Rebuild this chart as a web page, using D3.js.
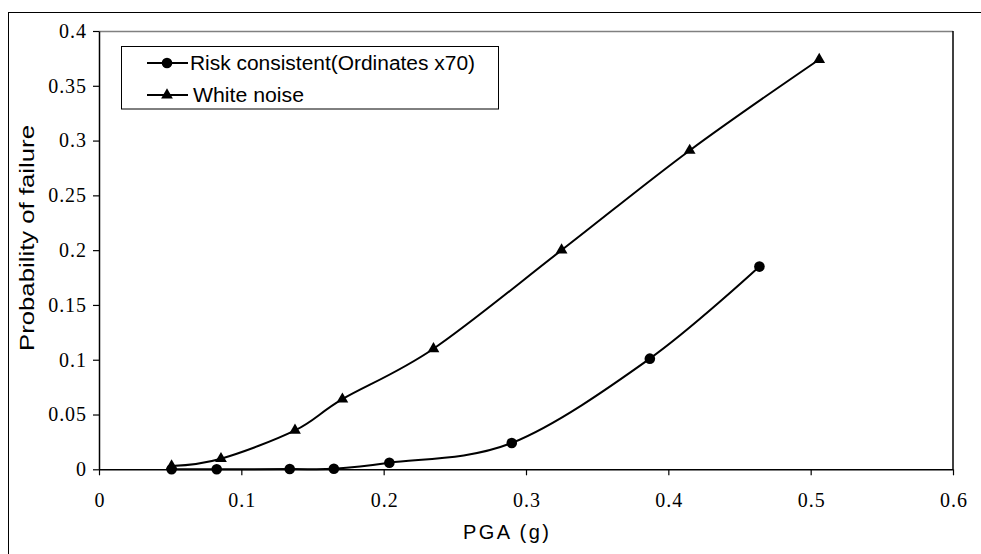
<!DOCTYPE html>
<html>
<head>
<meta charset="utf-8">
<script src="https://cdn.jsdelivr.net/npm/d3@7"></script>
<style>
  html, body { margin: 0; padding: 0; background: #fff; }
  svg { display: block; }
</style>
</head>
<body>
<svg id="chart" width="981" height="554"></svg>
<script>
// ---- data ----
const riskPGA   = [0.051, 0.0827, 0.134, 0.165, 0.204, 0.290, 0.387, 0.464];
const riskProb  = [0.0, 0.0, 0.0003, 0.0005, 0.006, 0.024, 0.101, 0.185];
const whitePGA  = [0.051, 0.0857, 0.1377, 0.171, 0.235, 0.325, 0.415, 0.506];
const whiteProb = [0.003, 0.0097, 0.0355, 0.064, 0.110, 0.200, 0.291, 0.374];
const xTicks = [0, 0.1, 0.2, 0.3, 0.4, 0.5, 0.6];
const yTicks = [0, 0.05, 0.1, 0.15, 0.2, 0.25, 0.3, 0.35, 0.4];
const seriesNames = ["Risk consistent(Ordinates x70)", "White noise"];
const xTitle = "PGA  (g)";
const yTitle = "Probability of failure";

const SERIF = '"Liberation Serif", "DejaVu Serif", serif';
const SANS = '"Liberation Sans", Arial, sans-serif';

const svg = d3.select("#chart");
const L = 99, R = 953, T = 31, B = 469.3;

const x = d3.scaleLinear().domain([0, 0.6]).range([L, R]);
const y = d3.scaleLinear().domain([0, 0.4]).range([B, T]);

// outer border
svg.append("rect").attr("x", 8.5).attr("y", 12.5).attr("width", 1000).attr("height", 600)
  .attr("fill", "none").attr("stroke", "#000").attr("stroke-width", 1);

// plot area border (top gray, right black)
svg.append("line").attr("x1", L).attr("x2", R).attr("y1", T + 0.5).attr("y2", T + 0.5)
  .attr("stroke", "#808080").attr("stroke-width", 1.5);
svg.append("line").attr("x1", R).attr("x2", R).attr("y1", T).attr("y2", B)
  .attr("stroke", "#000").attr("stroke-width", 1.5);

const fmt = d => String(+d.toFixed(2));

// axes
const xAxis = svg.append("g").attr("transform", `translate(0,${B})`)
  .call(d3.axisBottom(x).tickValues(xTicks).tickSize(6).tickSizeOuter(0).tickPadding(18).tickFormat(fmt));
const yAxis = svg.append("g").attr("transform", `translate(${L},0)`)
  .call(d3.axisLeft(y).tickValues(yTicks).tickSize(6).tickSizeOuter(0).tickPadding(7).tickFormat(fmt));

[xAxis, yAxis].forEach(g => {
  g.attr("font-family", null).attr("font-size", null);
  g.select(".domain").attr("stroke", "#000").attr("stroke-width", 1.5);
  g.selectAll(".tick line").attr("stroke", "#000").attr("stroke-width", 1.2);
  g.selectAll(".tick text").attr("fill", "#000")
    .style("font-family", SERIF).style("font-size", "20px")
    .each(function() {
      d3.select(this).attr("textLength", this.getComputedTextLength() * 1.08).attr("lengthAdjust", "spacing");
    });
});

// lines
const line = d3.line().x(d => x(d[0])).y(d => y(d[1])).curve(d3.curveCatmullRom.alpha(0));
const riskData = riskPGA.map((v, i) => [v, riskProb[i]]);
const whiteData = whitePGA.map((v, i) => [v, whiteProb[i]]);

svg.append("path").datum(riskData).attr("d", line)
  .attr("fill", "none").attr("stroke", "#000").attr("stroke-width", 2);
svg.append("path").datum(whiteData).attr("d", line)
  .attr("fill", "none").attr("stroke", "#000").attr("stroke-width", 2);

const tri = d3.symbol().type(d3.symbolTriangle).size(60);

svg.append("g").selectAll("circle").data(riskData).join("circle")
  .attr("cx", d => x(d[0])).attr("cy", d => y(d[1])).attr("r", 5.3).attr("fill", "#000");
svg.append("g").selectAll("path").data(whiteData).join("path")
  .attr("d", tri).attr("transform", d => `translate(${x(d[0])},${y(d[1])})`).attr("fill", "#000");

// legend
const lg = svg.append("g");
lg.append("rect").attr("x", 121.5).attr("y", 46.5).attr("width", 377).attr("height", 62.5)
  .attr("fill", "#fff").attr("stroke", "#000").attr("stroke-width", 1);
const rows = [63, 95];
rows.forEach((ry, i) => {
  lg.append("line").attr("x1", 147).attr("x2", 188).attr("y1", ry).attr("y2", ry)
    .attr("stroke", "#000").attr("stroke-width", 2);
  if (i === 0) lg.append("circle").attr("cx", 167).attr("cy", ry).attr("r", 5.3).attr("fill", "#000");
  else lg.append("path").attr("d", tri).attr("transform", `translate(167,${ry})`).attr("fill", "#000");
});
lg.append("text").attr("x", 190).attr("y", rows[0] + 7)
  .style("font-family", SANS).style("font-size", "20px")
  .attr("textLength", 285).attr("lengthAdjust", "spacingAndGlyphs").text(seriesNames[0]);
lg.append("text").attr("x", 193).attr("y", rows[1] + 7)
  .style("font-family", SANS).style("font-size", "20px")
  .attr("textLength", 111).attr("lengthAdjust", "spacingAndGlyphs").text(seriesNames[1]);

// axis titles
svg.append("text").attr("x", 463).attr("y", 539)
  .style("font-family", SANS).style("font-size", "20px")
  .attr("textLength", 86).attr("lengthAdjust", "spacing").text(xTitle);
svg.append("text").attr("transform", "translate(34,351) rotate(-90)")
  .style("font-family", SANS).style("font-size", "21px")
  .attr("textLength", 226).attr("lengthAdjust", "spacingAndGlyphs").text(yTitle);
</script>
</body>
</html>
